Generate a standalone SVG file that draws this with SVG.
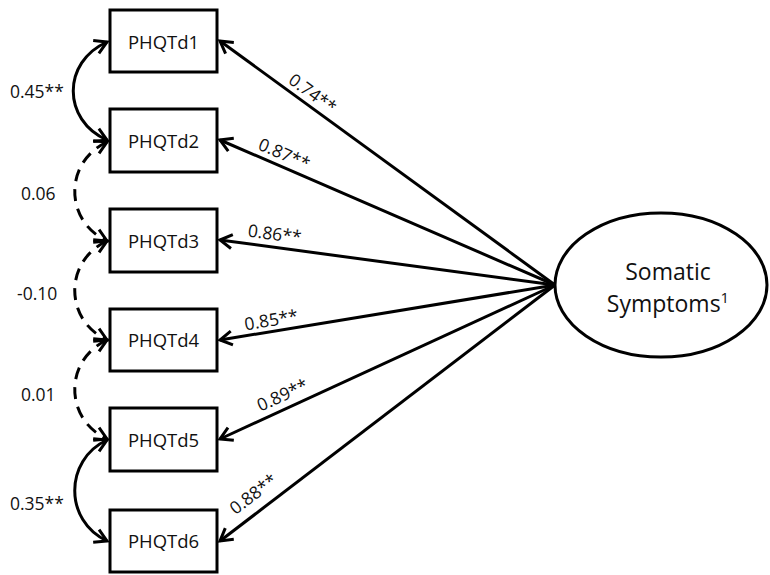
<svg xmlns="http://www.w3.org/2000/svg" width="770" height="575" viewBox="0 0 770 575">
<style>
.box{fill:#fff;stroke:#000;stroke-width:3}
.bt{font-family:"Open Sans","Liberation Sans",sans-serif;font-size:18.5px;fill:#111;text-anchor:middle}
.lbl{font-family:"Open Sans","Liberation Sans",sans-serif;font-size:17.5px;fill:#111}
.path{fill:none;stroke:#000;stroke-width:3;marker-end:url(#arr)}
.cov{fill:none;stroke:#000;stroke-width:3;marker-start:url(#arr);marker-end:url(#arr)}
.dash{stroke-dasharray:12,8}
</style>
<defs>
<marker id="arr" markerUnits="userSpaceOnUse" viewBox="-16 -10 20 20" markerWidth="20" markerHeight="20" refX="0" refY="0" orient="auto-start-reverse" overflow="visible">
<path d="M-12,-7 L0,0 L-12,7" fill="none" stroke="#000" stroke-width="3"/>
</marker>
</defs>
<g id="connectors">
<path class="path" d="M555,285 L220,41"/>
<path class="path" d="M555,285 L220,140"/>
<path class="path" d="M555,285 L220,240"/>
<path class="path" d="M555,285 L220,340"/>
<path class="path" d="M555,285 L220,439"/>
<path class="path" d="M555,285 L220,541"/>
<path class="cov" d="M107,42 C62,62 62,120 107,140"/>
<path class="cov dash" d="M107,142 C64,162 64,221 107,241"/>
<path class="cov dash" d="M107,241 C64,261 64,320 107,340"/>
<path class="cov dash" d="M107,340 C64,360 64,419 107,439"/>
<path class="cov" d="M107,440 C64,460 64,521 107,541"/>
<g class="lbl">
<text transform="translate(305,104) rotate(35.9)" y="-7" text-anchor="middle">0.74**</text>
<text transform="translate(279,166) rotate(23.3)" y="-7" text-anchor="middle">0.87**</text>
<text transform="translate(273,247) rotate(7.6)" y="-7" text-anchor="middle">0.86**</text>
<text transform="translate(273,331) rotate(-9.3)" y="-5" text-anchor="middle">0.85**</text>
<text transform="translate(288,407) rotate(-24.6)" y="-7" text-anchor="middle">0.89**</text>
<text transform="translate(263,507) rotate(-37.2)" y="-10" text-anchor="middle">0.88**</text>
<text x="10" y="98">0.45**</text>
<text x="21" y="200">0.06</text>
<text x="17" y="300">-0.10</text>
<text x="21" y="401">0.01</text>
<text x="10" y="510">0.35**</text>
</g>
</g>
<g id="PHQTd1"><rect class="box" x="110" y="10" width="107" height="62"/><text class="bt" x="163.5" y="49">PHQTd1</text></g>
<g id="PHQTd2"><rect class="box" x="110" y="109" width="107" height="63"/><text class="bt" x="163.5" y="148">PHQTd2</text></g>
<g id="PHQTd3"><rect class="box" x="110" y="209" width="107" height="63"/><text class="bt" x="163.5" y="248">PHQTd3</text></g>
<g id="PHQTd4"><rect class="box" x="110" y="309" width="107" height="62"/><text class="bt" x="163.5" y="347">PHQTd4</text></g>
<g id="PHQTd5"><rect class="box" x="110" y="408" width="107" height="63"/><text class="bt" x="163.5" y="447">PHQTd5</text></g>
<g id="PHQTd6"><rect class="box" x="110" y="510" width="107" height="62"/><text class="bt" x="163.5" y="548">PHQTd6</text></g>
<g id="SomaticSymptoms">
<ellipse cx="661" cy="285" rx="106" ry="72" fill="#fff" stroke="#000" stroke-width="3"/>
<text x="668" y="280" font-family="Open Sans, Liberation Sans, sans-serif" font-size="23" fill="#111" text-anchor="middle">Somatic</text>
<text x="668" y="312" font-family="Open Sans, Liberation Sans, sans-serif" font-size="23" fill="#111" text-anchor="middle">Symptoms<tspan font-size="15" dy="-9">1</tspan></text>
</g>
</svg>
